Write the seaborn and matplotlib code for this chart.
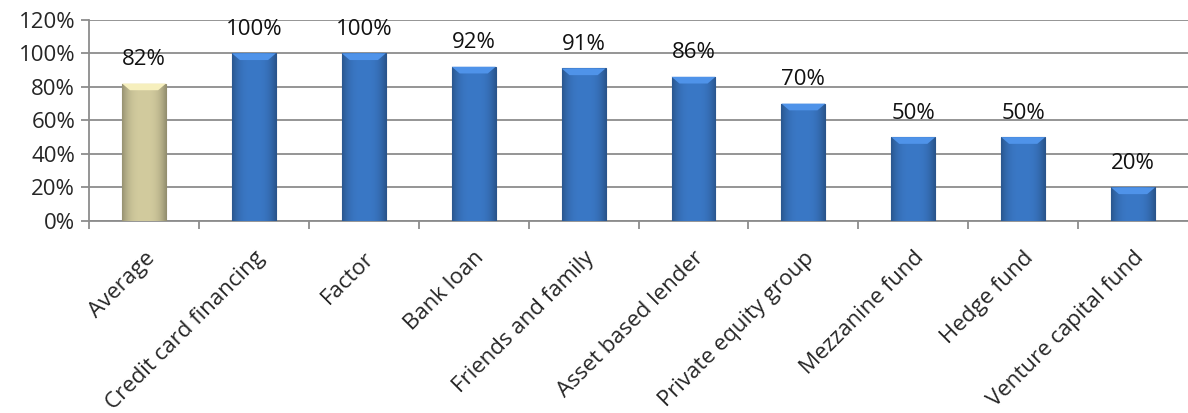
import numpy as np
import pandas as pd
import matplotlib
matplotlib.use("Agg")
import matplotlib.pyplot as plt
import seaborn as sns
from matplotlib.ticker import FixedLocator, PercentFormatter

categories = ["Average", "Credit card financing", "Factor", "Bank loan",
              "Friends and family", "Asset based lender", "Private equity group",
              "Mezzanine fund", "Hedge fund", "Venture capital fund"]
values = [82, 100, 100, 92, 91, 86, 70, 50, 50, 20]
bar_colors = ["#D2CB9E"] + ["#3A78C6"] * 9
y_ticks = [0, 20, 40, 60, 80, 100, 120]

df = pd.DataFrame({"source": categories, "share": values})

sns.set_theme(style="white")
plt.rcParams["font.family"] = ["Open Sans", "DejaVu Sans"]

fig = plt.figure(figsize=(11.88, 4.13), dpi=100)
ax = fig.add_axes([0.075, 0.465, 0.925, 0.487])

sns.barplot(data=df, x="source", y="share", hue="source", palette=bar_colors,
            legend=False, width=0.4, ax=ax, saturation=1, zorder=3)

# shaded, bevelled look on each bar
for patch, base in zip(ax.patches, bar_colors):
    x0, y0 = patch.get_x(), patch.get_y()
    w, h = patch.get_width(), patch.get_height()
    rgb = np.array(matplotlib.colors.to_rgb(base))
    xs = np.linspace(-1, 1, 64)
    shade = 1 - 0.28 * np.abs(xs) ** 3
    grad = np.clip(rgb[None, None, :] * shade[None, :, None], 0, 1)
    im = ax.imshow(grad, extent=[x0, x0 + w, y0, y0 + h], aspect="auto",
                   zorder=4, interpolation="bicubic")
    im.set_clip_path(patch)
    top = min(4.0, h * 0.3)
    cap = matplotlib.patches.Polygon(
        [[x0, y0 + h], [x0 + w, y0 + h], [x0 + w * 0.82, y0 + h - top],
         [x0 + w * 0.18, y0 + h - top]],
        closed=True, facecolor=np.clip(rgb * 1.1 + 0.06, 0, 1), edgecolor="none",
        zorder=5)
    ax.add_patch(cap)
    patch.set_edgecolor(np.clip(rgb * 0.7, 0, 1))
    patch.set_linewidth(0.8)

for i, v in enumerate(values):
    ax.text(i, v + 11, f"{v}%", ha="center", va="baseline", fontsize=16,
            color="#111111", zorder=6)

ax.set_xlim(-0.5, len(categories) - 0.5)
ax.set_ylim(0, 120)
ax.yaxis.set_major_locator(FixedLocator(y_ticks))
ax.yaxis.set_major_formatter(PercentFormatter(decimals=0))
ax.yaxis.grid(True, color="#8C8C8C", linewidth=1.3, zorder=0)
ax.set_axisbelow(True)

ax.set_xticks(np.arange(len(categories)) - 0.5, minor=False)
ax.set_xticklabels([])
ax.set_xticks(np.arange(len(categories)), minor=True)
ax.set_xticklabels(categories, minor=True, rotation=45, ha="right",
                   rotation_mode="anchor", fontsize=16)
ax.tick_params(axis="x", which="minor", length=0, pad=19)
ax.tick_params(axis="x", which="major", length=6, width=1.3, color="#8C8C8C",
               direction="out", bottom=True)
ax.tick_params(axis="y", length=6, width=1.3, color="#8C8C8C", direction="out",
               left=True, labelsize=16, pad=4)

for side in ["top", "right"]:
    ax.spines[side].set_visible(False)
for side in ["left", "bottom"]:
    ax.spines[side].set_color("#8C8C8C")
    ax.spines[side].set_linewidth(1.3)

ax.set_xlabel("")
ax.set_ylabel("")

fig.savefig("out.png", dpi=100)
